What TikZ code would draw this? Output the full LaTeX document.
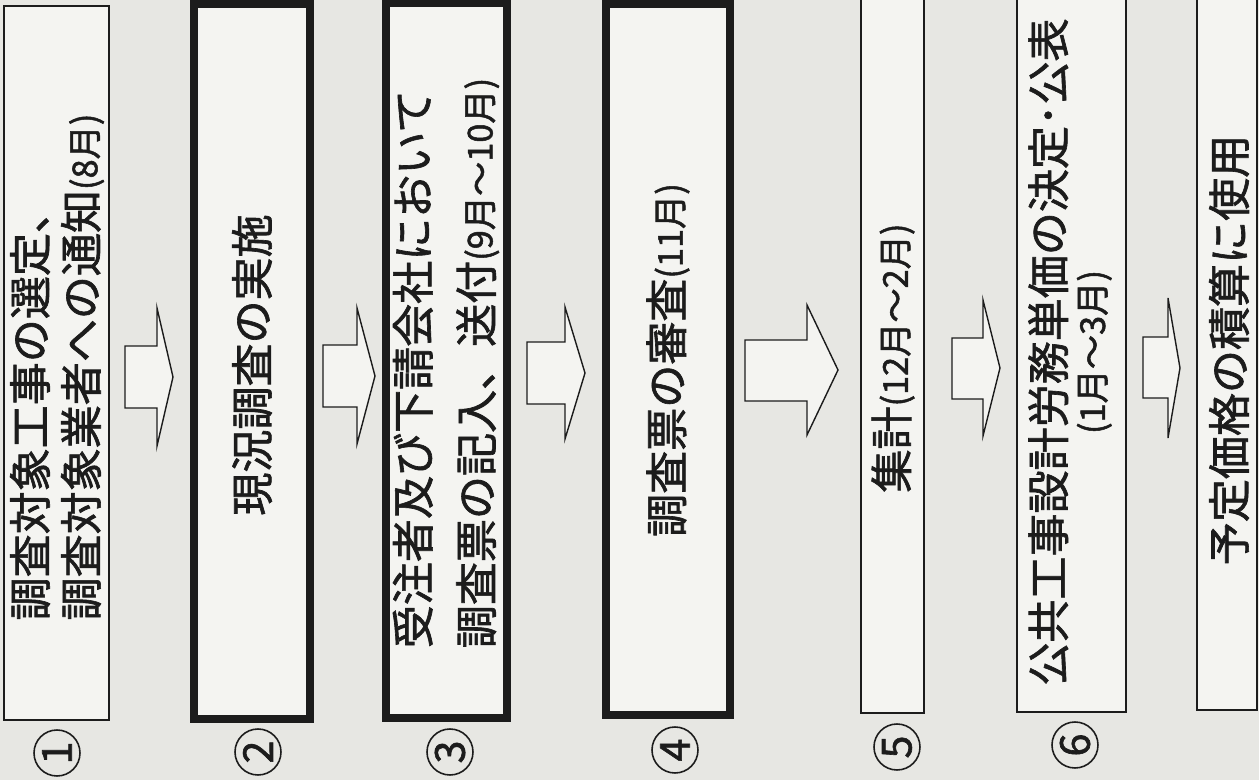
\documentclass[tikz,border=0pt]{standalone}
\usepackage{fontspec}
\newfontfamily\jpfont{Noto Sans CJK JP}[FakeBold=1.5]
\usepackage{tikz}

\definecolor{paper}{RGB}{231,231,227}
\definecolor{boxbg}{RGB}{244,244,241}
\definecolor{ink}{RGB}{28,28,28}

\newcommand{\monthnote}[1]{{\fontsize{19.5}{23}\selectfont #1}}

\begin{document}
\begin{tikzpicture}[x=0.02cm,y=-0.02cm,
	thinbox/.style={draw=ink, line width=1.1pt, fill=boxbg},
	thickbox/.style={draw=ink, line width=4pt, fill=boxbg},
	blockarrow/.style={draw=ink, line width=0.8pt, fill=boxbg, line join=miter},
	boxtext/.style={rotate=90, text=ink, inner sep=0pt, font=\jpfont\fontsize{24.5}{29}\selectfont},
	stepno/.style={circle, draw=ink, line width=0.9pt, minimum size=0.92cm, inner sep=0pt, text=ink, rotate=90, font=\jpfont\fontsize{23.5}{23.5}\selectfont}]
				\fill [paper] (0,0) rectangle (1259,780);
				\useasboundingbox (0,0) rectangle (1259,780);
				\clip (0,0) rectangle (1259,780);
				
				% boxes
				\draw [thinbox] (4,6) rectangle (109,720);
				\draw [thickbox] (194,4) rectangle (310,719);
				\draw [thickbox] (386,3) rectangle (507,718);
				\draw [thickbox] (606,4) rectangle (730,715);
				\draw [thinbox] (861,-10) rectangle (924,713);
				\draw [thinbox] (1017,-10) rectangle (1126,712);
				\draw [thinbox] (1197,-10) rectangle (1257,710);
				
				% arrows
				\draw [blockarrow] (125,346) -- (157,346) -- (157,308) -- (173,377) -- (157,446) -- (157,408) -- (125,408) -- cycle;
				\draw [blockarrow] (323,345) -- (357,345) -- (357,308) -- (375,376) -- (357,444) -- (357,407) -- (323,407) -- cycle;
				\draw [blockarrow] (527,342) -- (565,342) -- (565,307) -- (585,373) -- (565,439) -- (565,404) -- (527,404) -- cycle;
				\draw [blockarrow] (745,340) -- (807,340) -- (807,305) -- (838,370) -- (807,435) -- (807,401) -- (745,401) -- cycle;
				\draw [blockarrow] (952,338) -- (983,338) -- (983,300) -- (1000,368) -- (983,436) -- (983,399) -- (952,399) -- cycle;
				\draw [blockarrow] (1143,337) -- (1168,337) -- (1168,298) -- (1180,368) -- (1168,438) -- (1168,398) -- (1143,398) -- cycle;
				
				% texts
				\node [boxtext, align=left] (survey) at (57,367) {調査対象工事の選定、\\調査対象業者への通知\monthnote{(8月)}};
				\node [boxtext] (field) at (252,365) {現況調査の実施};
				\node [boxtext, align=left, font=\jpfont\fontsize{24.5}{36}\selectfont] (entry) at (446,363) {受注者及び下請会社において\\調査票の記入、送付\monthnote{(9月〜10月)}};
				\node [boxtext] (review) at (668,360) {調査票の審査\monthnote{(11月)}};
				\node [boxtext] (tally) at (893,358) {集計\monthnote{(12月〜2月)}};
				\node [boxtext, align=center, font=\jpfont\fontsize{24.5}{23}\selectfont] (publish) at (1070,352) {公共工事設計労務単価の決定･公表\\\monthnote{(1月〜3月)}};
				\node [boxtext] (use) at (1229,350) {予定価格の積算に使用};
				
				% step numbers
				\node [stepno] (n1) at (57,753) {1};
				\node [stepno] (n2) at (258,752) {2};
				\node [stepno] (n3) at (450,752) {3};
				\node [stepno] (n4) at (675,750) {4};
				\node [stepno] (n5) at (897,747) {5};
				\node [stepno] (n6) at (1075,745) {6};
\end{tikzpicture}
\end{document}
